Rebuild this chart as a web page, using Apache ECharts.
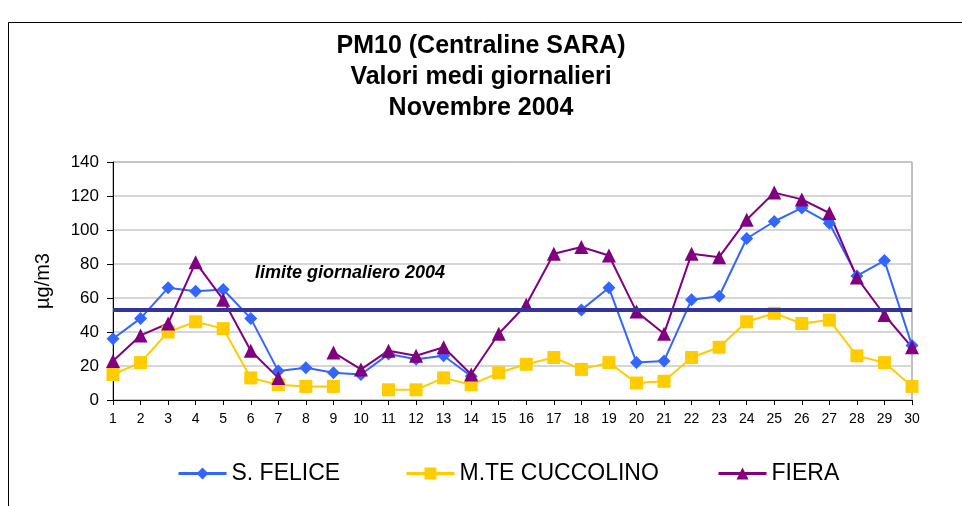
<!DOCTYPE html>
<html>
<head>
<meta charset="utf-8">
<script src="https://cdn.jsdelivr.net/npm/echarts@6/dist/echarts.min.js"></script>
<style>
html, body { margin: 0; padding: 0; background: #fff; }
#chart { width: 962px; height: 506px; }
</style>
</head>
<body>
<div id="chart"></div>
<script>
const days = ["1","2","3","4","5","6","7","8","9","10","11","12","13","14","15","16","17","18","19","20","21","22","23","24","25","26","27","28","29","30"];
const sFelice = [36, 48, 66, 64, 65, 48, 17, 19, 16, 15, 27, 24, 26, 14, null, null, null, 53, 66, 22, 23, 59, 61, 95, 105, 113, 104, 73, 82, 32];
const cuccolino = [15, 22, 40, 46, 42, 13, 9, 8, 8, null, 6, 6, 13, 9, 16, 21, 25, 18, 22, 10, 11, 25, 31, 46, 51, 45, 47, 26, 22, 8];
const fiera = [23, 38, 45, 81, 59, 29, 13, null, 28, 18, 29, 26, 31, 15, 39, 56, 86, 90, 85, 52, 39, 86, 84, 106, 122, 118, 110, 72, 50, 31];
const limite = 53;

const font = "Liberation Sans, Arial, sans-serif";
const chart = echarts.init(document.getElementById("chart"), null, { renderer: "canvas" });

function lineSeries(name, data, color, symbol, size) {
    return {
        name: name,
        type: "line",
        data: data,
        connectNulls: false,
        symbol: symbol,
        symbolSize: size,
        lineStyle: { color: color, width: 2 },
        itemStyle: { color: color },
        animation: false
    };
}

// one legend per item, so each one sits where the original put it
function legendAt(name, left) {
    return {
        left: left,
        top: 457,
        itemGap: 0,
        itemWidth: 48,
        itemHeight: 15,
        lineStyle: { width: 3 },
        textStyle: { fontFamily: font, fontSize: 23, color: "#000" },
        data: [name]
    };
}

chart.setOption({
    backgroundColor: "#fff",
    title: {
        text: "PM10 (Centraline SARA)\nValori medi giornalieri\nNovembre 2004",
        left: "center",
        top: 26,
        textStyle: { fontFamily: font, fontSize: 25, fontWeight: "bold", color: "#000", lineHeight: 31 }
    },
    graphic: [
        { type: "rect", left: 6, top: 20, shape: { width: 1000, height: 600 }, style: { fill: "none", stroke: "#000", lineWidth: 1 } },
        { type: "text", left: 255, top: 264, style: { text: "limite giornaliero 2004", font: "italic bold 18px " + font, fill: "#000" } }
    ],
    legend: [
        legendAt("S. FELICE", 172),
        legendAt("M.TE CUCCOLINO", 400),
        legendAt("FIERA", 712)
    ],
    grid: { left: 113, right: 50, top: 162, bottom: 106, show: true, borderColor: "#808080", borderWidth: 1 },
    xAxis: {
        type: "category",
        data: days,
        boundaryGap: false,
        axisLine: { lineStyle: { color: "#000", width: 1 } },
        axisTick: { show: true, interval: 0, length: 5, lineStyle: { color: "#000" } },
        axisLabel: { interval: 0, fontFamily: font, fontSize: 14, color: "#000", margin: 12 }
    },
    yAxis: {
        type: "value",
        min: 0,
        max: 140,
        interval: 20,
        name: "µg/m3",
        nameLocation: "middle",
        nameGap: 60,
        nameTextStyle: { fontFamily: font, fontSize: 20, color: "#000" },
        axisLine: { show: true, lineStyle: { color: "#000" } },
        axisTick: { show: true, length: 6, lineStyle: { color: "#000" } },
        axisLabel: { fontFamily: font, fontSize: 17, color: "#000", margin: 14 },
        splitLine: { lineStyle: { color: "#c8c8c8", width: 1.5 } }
    },
    series: [
        Object.assign(lineSeries("S. FELICE", sFelice, "#3366ff", "diamond", 13), {
            markLine: {
                silent: true,
                symbol: "none",
                label: { show: false },
                lineStyle: { color: "#333399", width: 4, type: "solid" },
                data: [{ yAxis: limite }],
                animation: false
            }
        }),
        lineSeries("M.TE CUCCOLINO", cuccolino, "#ffcc00", "rect", 13),
        lineSeries("FIERA", fiera, "#800080", "triangle", 14)
    ]
});
</script>
</body>
</html>
